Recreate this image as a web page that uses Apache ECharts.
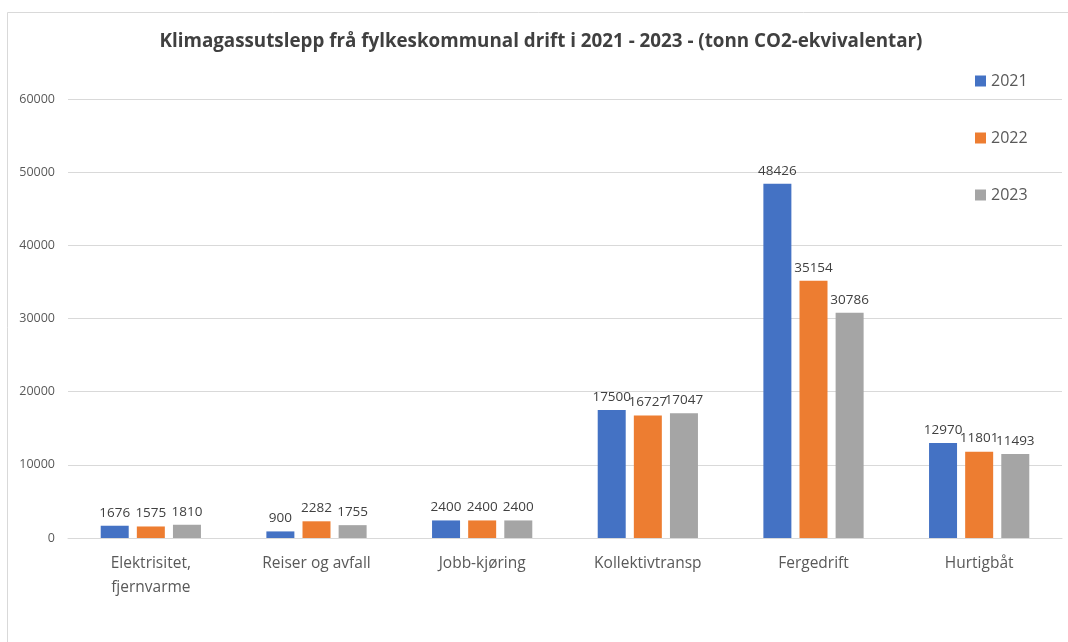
<!DOCTYPE html>
<html><head><meta charset="utf-8">
<script src="https://cdn.jsdelivr.net/npm/echarts@6/dist/echarts.min.js"></script>
<style>html,body{margin:0;padding:0;background:#fff}#c{width:1068px;height:642px}</style>
</head><body><div id="c"></div>
<script>
const categories = ['Elektrisitet,\nfjernvarme', 'Reiser og avfall', 'Jobb-kjøring', 'Kollektivtransp', 'Fergedrift', 'Hurtigbåt'];
const values2021 = [1676, 900, 2400, 17500, 48426, 12970];
const values2022 = [1575, 2282, 2400, 16727, 35154, 11801];
const values2023 = [1810, 1755, 2400, 17047, 30786, 11493];
const seriesNames = ['2021', '2022', '2023'];
const colors = ['#4472C4', '#ED7D31', '#A5A5A5'];
const FONT = 'Open Sans';

const chart = echarts.init(document.getElementById('c'));
const mk = (name, data, color) => ({
  name, type: 'bar', data, barWidth: 28, barGap: '29%',
  itemStyle: { color },
  label: { show: true, position: 'top', distance: 6, color: '#404040', fontSize: 13.5, fontFamily: FONT }
});
chart.setOption({
  backgroundColor: '#fff',
  animation: false,
  color: colors,
  title: {
    text: 'Klimagassutslepp frå fylkeskommunal drift i 2021 - 2023 - (tonn CO2-ekvivalentar)',
    left: 536, top: 27, textAlign: 'center',
    textStyle: { fontFamily: FONT, fontSize: 18.8, fontWeight: 'bold', color: '#404040' }
  },
  legend: {
    orient: 'vertical', left: 970, top: 68, itemWidth: 11, itemHeight: 11, itemGap: 41,
    icon: 'rect',
    textStyle: { fontFamily: FONT, fontSize: 16, color: '#595959', padding: [0, 0, 0, 0] },
    data: seriesNames
  },
  grid: { left: 68, right: 6, top: 99, bottom: 104, containLabel: false },
  xAxis: {
    type: 'category', data: categories,
    axisLine: { lineStyle: { color: '#d9d9d9', width: 1 } },
    axisTick: { show: false },
    axisLabel: { fontFamily: FONT, fontSize: 15.5, color: '#595959', lineHeight: 24, margin: 14 }
  },
  yAxis: {
    type: 'value', min: 0, max: 60000, interval: 10000,
    axisLine: { show: false }, axisTick: { show: false },
    splitLine: { lineStyle: { color: '#d9d9d9', width: 1 } },
    axisLabel: { fontFamily: FONT, fontSize: 12.5, color: '#595959', margin: 13, formatter: v => String(v) }
  },
  graphic: [{
    type: 'rect', shape: { x: 7.5, y: 12.5, width: 1100, height: 700 },
    style: { fill: 'none', stroke: '#d9d9d9', lineWidth: 1 }, silent: true, z: -1
  }],
  series: [
    mk(seriesNames[0], values2021, colors[0]),
    mk(seriesNames[1], values2022, colors[1]),
    mk(seriesNames[2], values2023, colors[2])
  ]
});
</script></body></html>
